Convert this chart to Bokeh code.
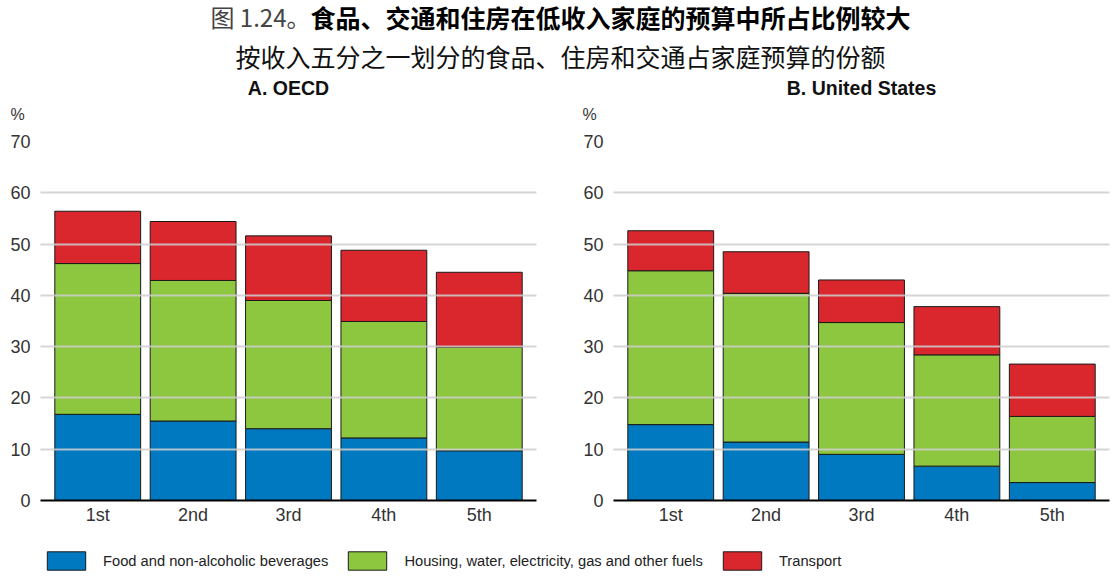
from bokeh.plotting import figure
from bokeh.models import Range1d, FixedTicker, ColumnDataSource, Legend, LegendItem
from bokeh.layouts import column, row
from bokeh.embed import file_html
from bokeh.resources import INLINE
from bokeh.core.properties import value

# ---------------- data ----------------
title_prefix = "图 1.24。"
title_main = "食品、交通和住房在低收入家庭的预算中所占比例较大"
subtitle = "按收入五分之一划分的食品、住房和交通占家庭预算的份额"
panel_titles = ["A. OECD", "B. United States"]
y_unit = "%"

categories = ["1st", "2nd", "3rd", "4th", "5th"]
series_names = [
    "Food and non-alcoholic beverages",
    "Housing, water, electricity, gas and other fuels",
    "Transport",
]
series_colors = ["#0079C1", "#8DC63F", "#DA272D"]
y_ticks = [0, 10, 20, 30, 40, 50, 60, 70]

oecd_food = [16.8, 15.5, 14.0, 12.2, 9.7]
oecd_housing = [29.4, 27.4, 25.0, 22.7, 20.2]
oecd_transport = [10.2, 11.5, 12.6, 13.9, 14.6]

us_food = [14.8, 11.4, 9.0, 6.7, 3.5]
us_housing = [30.0, 29.0, 25.7, 21.7, 12.9]
us_transport = [7.8, 8.1, 8.3, 9.4, 10.2]

# ---------------- styling ----------------
LATIN = "Liberation Sans"
CJK = "Noto Sans CJK SC"
OUTLINE = "#1a1a1a"
TEXT = "#333333"
W = 1114
HEADER_H = 128
PANEL_H = 407
LEGEND_H = 580 - HEADER_H - PANEL_H


def make_panel(food, housing, transport, width, b_left, b_right):
    xs = list(range(1, len(categories) + 1))
    src = ColumnDataSource(dict(x=xs, food=food, housing=housing, transport=transport))
    p = figure(width=width, height=PANEL_H,
               x_range=Range1d(0.4, len(categories) + 0.6), y_range=Range1d(0, 70),
               output_backend="svg", toolbar_location=None,
               min_border_left=b_left, min_border_right=b_right,
               min_border_top=13, min_border_bottom=35)
    p.outline_line_color = None
    p.vbar_stack(["food", "housing", "transport"], x="x", width=0.9,
                 color=series_colors, line_color=OUTLINE, line_width=1, source=src)

    p.xaxis.ticker = FixedTicker(ticks=xs)
    p.xaxis.major_label_overrides = {x: c for x, c in zip(xs, categories)}
    p.xaxis.major_tick_line_color = None
    p.xaxis.minor_tick_line_color = None
    p.xaxis.major_tick_out = 0
    p.xaxis.major_tick_in = 0
    p.xaxis.axis_line_color = "#000000"
    p.xaxis.axis_line_width = 2
    p.xaxis.major_label_standoff = 4
    p.xaxis.major_label_text_font = LATIN
    p.xaxis.major_label_text_font_size = "18px"
    p.xaxis.major_label_text_color = TEXT

    p.yaxis.ticker = FixedTicker(ticks=y_ticks)
    p.yaxis.axis_line_color = None
    p.yaxis.major_tick_line_color = None
    p.yaxis.minor_tick_line_color = None
    p.yaxis.major_tick_out = 0
    p.yaxis.major_tick_in = 0
    p.yaxis.major_label_standoff = 10
    p.yaxis.major_label_text_font = LATIN
    p.yaxis.major_label_text_font_size = "18px"
    p.yaxis.major_label_text_color = TEXT

    p.xgrid.visible = False
    p.ygrid.ticker = FixedTicker(ticks=y_ticks[1:])
    p.ygrid.grid_line_color = "#cfcfcf"
    p.ygrid.grid_line_width = 2
    p.ygrid.grid_line_alpha = 0.85
    p.ygrid.level = "overlay"
    return p


# header: main title, subtitle, panel titles and unit labels
h = figure(width=W, height=HEADER_H, x_range=Range1d(0, W), y_range=Range1d(HEADER_H, 0),
           x_axis_location=None, y_axis_location=None, output_backend="svg",
           toolbar_location=None, min_border=0)
h.outline_line_color = None
h.grid.visible = False
h.text(x=[310], y=[16], text=[title_prefix], text_font=value(CJK), text_font_size="24px",
       text_color="#444444", text_align="right", text_baseline="middle")
h.text(x=[310], y=[16], text=[title_main], text_font=value(CJK), text_font_size="25px",
       text_font_style="bold", text_color="#000000", text_align="left", text_baseline="middle")
h.text(x=[560], y=[55], text=[subtitle], text_font=value(CJK), text_font_size="25px",
       text_color="#111111", text_align="center", text_baseline="middle")
h.text(x=[288, 861], y=[87, 87], text=panel_titles, text_font=value(LATIN),
       text_font_size="19.5px", text_font_style="bold", text_color="#111111",
       text_align="center", text_baseline="middle")
h.text(x=[10, 582], y=[114, 114], text=[y_unit, y_unit], text_font=value(LATIN),
       text_font_size="16px", text_color=TEXT, text_align="left", text_baseline="middle")

p1 = make_panel(oecd_food, oecd_housing, oecd_transport, 573, 40, 37)
p2 = make_panel(us_food, us_housing, us_transport, W - 573, 40, W - 573 - 40 - 496)

# legend strip
lf = figure(width=W, height=LEGEND_H, x_range=Range1d(0, 1), y_range=Range1d(0, 1),
            x_axis_location=None, y_axis_location=None, output_backend="svg",
            toolbar_location=None, min_border=0)
lf.outline_line_color = None
lf.grid.visible = False
nan = float("nan")
items = []
for name, col in zip(series_names, series_colors):
    # undrawn proxy renderer (NaN data), only used to give the legend its swatch style
    r = lf.vbar(x=[nan], top=[nan], width=0.5, fill_color=col, line_color=OUTLINE, line_width=1)
    items.append(LegendItem(label=name, renderers=[r]))
legend = Legend(items=items, orientation="horizontal", location=(42, 8),
                glyph_width=48, glyph_height=23, label_standoff=13, spacing=15,
                padding=0, margin=0, border_line_color=None, background_fill_alpha=0,
                label_text_font=LATIN, label_text_font_size="14.7px",
                label_text_color="#222222")
lf.add_layout(legend)

layout = column(h, row(p1, p2), lf)
open("out.html", "w").write(file_html(layout, INLINE))
